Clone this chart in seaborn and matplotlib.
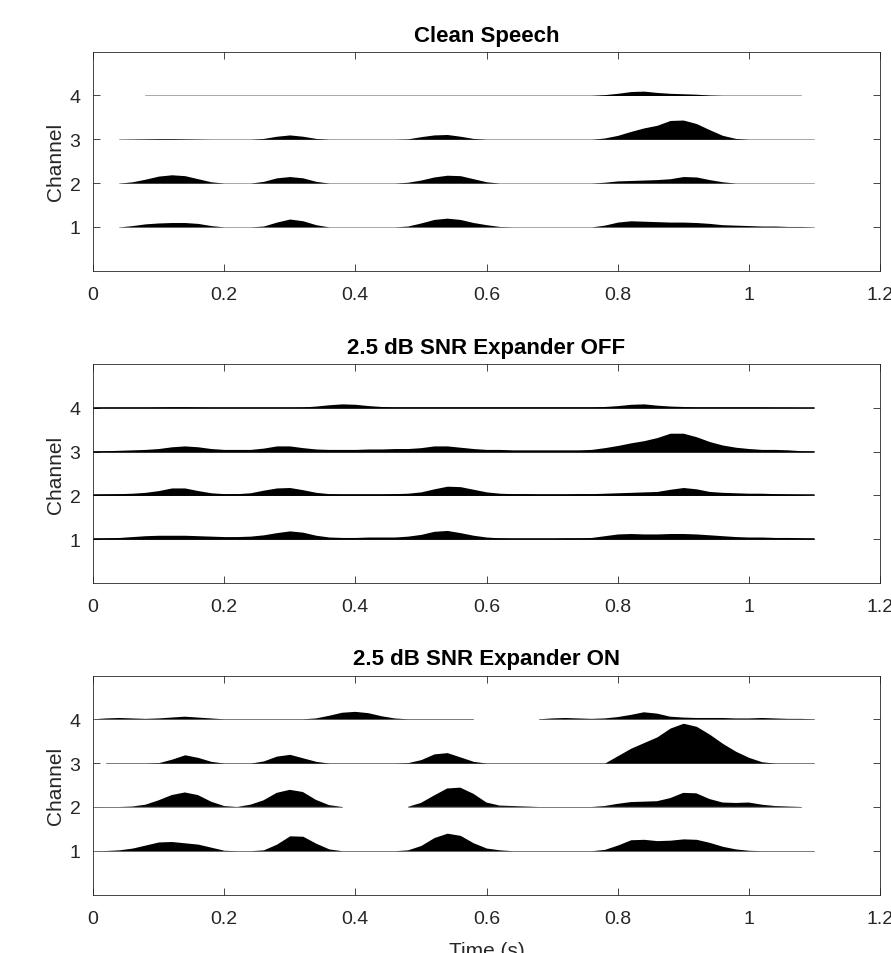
import numpy as np
import pandas as pd
import matplotlib
matplotlib.use("Agg")
import matplotlib.pyplot as plt
import seaborn as sns

N = np.nan
# time grid of the envelope samples (s)
time_s = [round(0.02 * i, 2) for i in range(56)]
channels = [1, 2, 3, 4]
titles = ["Clean Speech", "2.5 dB SNR Expander OFF", "2.5 dB SNR Expander ON"]
x_ticks = [0, 0.2, 0.4, 0.6, 0.8, 1.0, 1.2]
x_tick_labels = ["0", "0.2", "0.4", "0.6", "0.8", "1", "1.2"]
y_ticks = [1, 2, 3, 4]

# ---- Clean speech envelopes (channel units) ----
clean_ch1 = [N, N, 0.00, 0.03, 0.07, 0.09, 0.10, 0.10, 0.08, 0.03,
             0.00, 0.00, 0.00, 0.02, 0.11, 0.18, 0.14, 0.05, 0.00, 0.00,
             0.00, 0.00, 0.00, 0.00, 0.02, 0.09, 0.17, 0.20, 0.17, 0.10,
             0.05, 0.01, 0.00, 0.00, 0.00, 0.00, 0.00, 0.00, 0.00, 0.04,
             0.11, 0.14, 0.13, 0.12, 0.11, 0.11, 0.10, 0.08, 0.05, 0.04,
             0.03, 0.02, 0.02, 0.01, 0.01, 0.00]
clean_ch2 = [N, N, 0.00, 0.03, 0.09, 0.16, 0.19, 0.17, 0.10, 0.03,
             0.00, 0.00, 0.00, 0.04, 0.12, 0.15, 0.12, 0.04, 0.00, 0.00,
             0.00, 0.00, 0.00, 0.00, 0.02, 0.07, 0.14, 0.18, 0.17, 0.10,
             0.03, 0.00, 0.00, 0.00, 0.00, 0.00, 0.00, 0.00, 0.00, 0.02,
             0.05, 0.06, 0.07, 0.08, 0.10, 0.15, 0.14, 0.08, 0.03, 0.00,
             0.00, 0.00, 0.00, 0.00, 0.00, 0.00]
clean_ch3 = [N, N, 0.00, 0.005, 0.01, 0.015, 0.015, 0.01, 0.005, 0.00,
             0.00, 0.00, 0.00, 0.02, 0.07, 0.10, 0.07, 0.02, 0.00, 0.00,
             0.00, 0.00, 0.00, 0.00, 0.01, 0.06, 0.10, 0.11, 0.07, 0.02,
             0.00, 0.00, 0.00, 0.00, 0.00, 0.00, 0.00, 0.00, 0.00, 0.03,
             0.09, 0.18, 0.26, 0.32, 0.43, 0.44, 0.36, 0.22, 0.09, 0.02,
             0.00, 0.00, 0.00, 0.00, 0.00, 0.00]
clean_ch4 = [N, N, N, N, 0.00, 0.00, 0.00, 0.00, 0.00, 0.00,
             0.00, 0.00, 0.00, 0.00, 0.00, 0.00, 0.00, 0.00, 0.00, 0.00,
             0.00, 0.00, 0.00, 0.00, 0.00, 0.00, 0.00, 0.00, 0.00, 0.00,
             0.00, 0.00, 0.00, 0.00, 0.00, 0.00, 0.00, 0.00, 0.00, 0.02,
             0.05, 0.09, 0.10, 0.07, 0.05, 0.04, 0.03, 0.01, 0.00, 0.00,
             0.00, 0.00, 0.00, 0.00, 0.00, N]

# ---- 2.5 dB SNR, expander OFF ----
off_ch1 = [0.02, 0.03, 0.04, 0.06, 0.08, 0.09, 0.09, 0.09, 0.08, 0.07,
           0.06, 0.06, 0.07, 0.10, 0.15, 0.19, 0.16, 0.09, 0.05, 0.04,
           0.04, 0.05, 0.05, 0.05, 0.07, 0.11, 0.18, 0.20, 0.15, 0.09,
           0.05, 0.03, 0.02, 0.02, 0.02, 0.02, 0.03, 0.03, 0.04, 0.08,
           0.12, 0.13, 0.12, 0.12, 0.13, 0.13, 0.12, 0.10, 0.08, 0.06,
           0.05, 0.05, 0.04, 0.04, 0.03, 0.02]
off_ch2 = [0.02, 0.03, 0.04, 0.05, 0.07, 0.11, 0.17, 0.17, 0.11, 0.06,
           0.04, 0.04, 0.06, 0.12, 0.17, 0.18, 0.13, 0.07, 0.04, 0.03,
           0.03, 0.03, 0.03, 0.04, 0.05, 0.08, 0.15, 0.21, 0.20, 0.14,
           0.08, 0.05, 0.04, 0.04, 0.03, 0.03, 0.03, 0.04, 0.04, 0.05,
           0.06, 0.07, 0.08, 0.09, 0.14, 0.18, 0.15, 0.09, 0.07, 0.06,
           0.05, 0.05, 0.04, 0.03, 0.02, 0.01]
off_ch3 = [0.01, 0.02, 0.03, 0.04, 0.05, 0.07, 0.11, 0.13, 0.11, 0.07,
           0.05, 0.05, 0.05, 0.08, 0.13, 0.13, 0.09, 0.06, 0.05, 0.05,
           0.05, 0.06, 0.06, 0.07, 0.07, 0.09, 0.13, 0.13, 0.10, 0.07,
           0.05, 0.05, 0.04, 0.04, 0.04, 0.04, 0.04, 0.04, 0.05, 0.09,
           0.14, 0.20, 0.25, 0.32, 0.42, 0.42, 0.34, 0.23, 0.15, 0.10,
           0.07, 0.05, 0.05, 0.04, 0.02, 0.01]
off_ch4 = [0.01, 0.015, 0.015, 0.015, 0.015, 0.02, 0.025, 0.025, 0.02, 0.015,
           0.015, 0.015, 0.015, 0.015, 0.015, 0.015, 0.02, 0.04, 0.07, 0.09,
           0.08, 0.05, 0.03, 0.02, 0.02, 0.02, 0.02, 0.02, 0.02, 0.02,
           0.02, 0.02, 0.02, 0.02, 0.02, 0.02, 0.02, 0.02, 0.02, 0.03,
           0.05, 0.08, 0.09, 0.06, 0.04, 0.03, 0.02, 0.02, 0.02, 0.02,
           0.02, 0.02, 0.015, 0.015, 0.01, 0.01]

# ---- 2.5 dB SNR, expander ON ----
on_ch1 = [0.00, 0.005, 0.02, 0.06, 0.13, 0.20, 0.21, 0.18, 0.15, 0.08,
          0.01, 0.00, 0.00, 0.02, 0.15, 0.34, 0.33, 0.17, 0.04, 0.00,
          0.00, 0.00, 0.00, 0.00, 0.02, 0.12, 0.30, 0.40, 0.35, 0.18,
          0.06, 0.02, 0.00, 0.00, 0.00, 0.00, 0.00, 0.00, 0.00, 0.03,
          0.13, 0.25, 0.26, 0.23, 0.24, 0.27, 0.26, 0.19, 0.10, 0.04,
          0.01, 0.00, 0.00, 0.00, 0.00, 0.00]
on_ch2 = [0.00, 0.00, 0.00, 0.01, 0.05, 0.15, 0.27, 0.33, 0.27, 0.12,
          0.02, 0.00, 0.05, 0.15, 0.32, 0.39, 0.34, 0.16, 0.04, 0.00,
          N, N, N, N, 0.00, 0.09, 0.26, 0.42, 0.44, 0.30,
          0.10, 0.03, 0.02, 0.01, 0.00, 0.00, 0.00, 0.00, 0.00, 0.02,
          0.07, 0.11, 0.12, 0.13, 0.20, 0.32, 0.31, 0.18, 0.10, 0.09,
          0.10, 0.05, 0.02, 0.01, 0.00, N]
on_ch3 = [N, 0.00, 0.00, 0.00, 0.00, 0.01, 0.09, 0.19, 0.13, 0.04,
          0.00, 0.00, 0.00, 0.05, 0.16, 0.20, 0.12, 0.04, 0.00, 0.00,
          0.00, 0.00, 0.00, 0.00, 0.01, 0.08, 0.21, 0.24, 0.14, 0.04,
          0.00, 0.00, 0.00, 0.00, 0.00, 0.00, 0.00, 0.00, 0.00, 0.00,
          0.17, 0.34, 0.47, 0.60, 0.80, 0.91, 0.84, 0.66, 0.45, 0.27,
          0.13, 0.03, 0.00, 0.00, 0.00, 0.00]
on_ch4 = [0.00, 0.02, 0.03, 0.02, 0.01, 0.02, 0.04, 0.06, 0.04, 0.02,
          0.00, 0.00, 0.00, 0.00, 0.00, 0.00, 0.00, 0.02, 0.08, 0.15,
          0.17, 0.14, 0.07, 0.02, 0.00, 0.00, 0.00, 0.00, 0.00, 0.00,
          N, N, N, N, 0.00, 0.02, 0.03, 0.02, 0.01, 0.02,
          0.05, 0.10, 0.16, 0.13, 0.06, 0.04, 0.03, 0.03, 0.03, 0.02,
          0.02, 0.03, 0.02, 0.01, 0.01, 0.00]

panels = [
    [clean_ch1, clean_ch2, clean_ch3, clean_ch4],
    [off_ch1, off_ch2, off_ch3, off_ch4],
    [on_ch1, on_ch2, on_ch3, on_ch4],
]

sns.set_theme(style="white")
plt.rcParams["font.family"] = ["Liberation Sans", "DejaVu Sans"]

W, H = 891, 954
fig = plt.figure(figsize=(W / 100, H / 100), dpi=100)
tops = [52.7, 365.0, 676.5]
ax_h = 219.0
left_px, width_px = 93.0, 787.0

dark = "#262626"
base_style = [("#9a9a9a", 0.6), ("black", 1.1), ("#7a7a7a", 0.7)]

for p, (chs, title) in enumerate(zip(panels, titles)):
    top = tops[p]
    ax = fig.add_axes([left_px / W, 1 - (top + ax_h) / H, width_px / W, ax_h / H])
    lc, lw = base_style[p]
    for ch, env in zip(channels, chs):
        env = np.asarray(env, dtype=float)
        t = np.asarray(time_s)
        # baseline trace, broken where the channel has no data
        seg = np.cumsum(np.isnan(env))
        df = pd.DataFrame({"t": t, "base": np.full(len(t), ch, dtype=float), "seg": seg})
        df = df[~np.isnan(env)]
        sns.lineplot(data=df, x="t", y="base", units="seg", estimator=None,
                     color=lc, lw=lw, ax=ax, legend=False)
        ax.fill_between(t, ch, ch + env, color="black", lw=0, zorder=3)

    ax.set_xlim(0, 1.2)
    ax.set_ylim(0, 5)
    ax.set_xticks(x_ticks)
    ax.set_xticklabels(x_tick_labels)
    ax.set_yticks(y_ticks)
    ax.set_yticklabels([str(c) for c in y_ticks])
    ax.tick_params(axis="both", direction="in", length=5, width=0.6,
                   colors=dark, labelsize=14, top=True, right=True,
                   bottom=True, left=True)
    ax.tick_params(axis="x", pad=11)
    ax.tick_params(axis="y", pad=9)
    for s in ax.spines.values():
        s.set_visible(True)
        s.set_color(dark)
        s.set_linewidth(0.6)
    ax.set_xlabel("")
    ax.set_ylabel("Channel", fontsize=15, color=dark)
    ax.yaxis.set_label_coords(-0.036, 0.5)
    ax.set_title(title, fontsize=16, fontweight="bold", color="black", pad=8)
    if p == 2:
        ax.set_xlabel("Time (s)", fontsize=15, color=dark)
        ax.xaxis.set_label_coords(0.5, (894 - 941) / ax_h)
        ax.xaxis.label.set_va("top")

fig.savefig("out.png", dpi=100)
